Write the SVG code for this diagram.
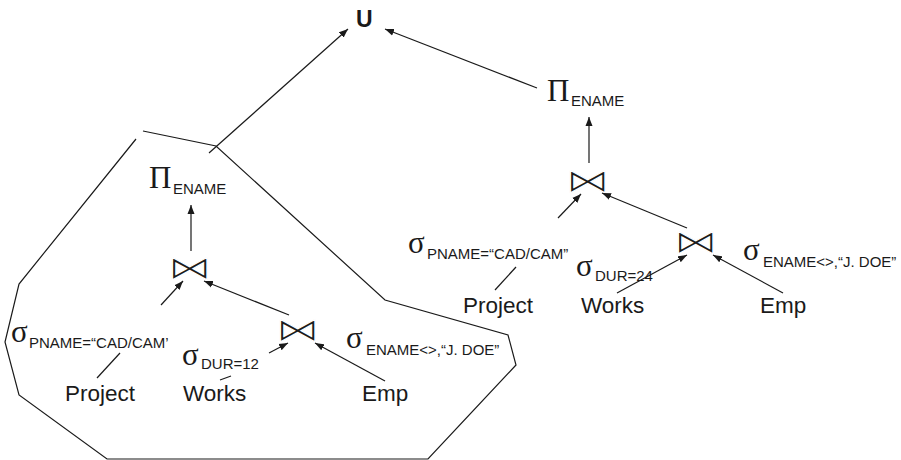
<svg xmlns="http://www.w3.org/2000/svg" width="901" height="460" viewBox="0 0 901 460">
<defs>
<marker id="ah" markerUnits="userSpaceOnUse" markerWidth="10" markerHeight="8" refX="9" refY="4" orient="auto">
<path d="M0,0.5 L9,4 L0,7.5 Z" fill="#1a1a1a"/>
</marker>
<style>
.g{font-family:"Liberation Serif","Times New Roman",serif;font-size:31px;fill:#1a1a1a}
.s{font-family:"Liberation Sans",Arial,sans-serif;font-size:15px;fill:#1a1a1a}
.r{font-family:"Liberation Sans",Arial,sans-serif;font-size:22.5px;fill:#1a1a1a}
.j{font-family:"DejaVu Sans",sans-serif;font-size:33px;fill:#1a1a1a;stroke:#fff;stroke-width:1.1px;text-anchor:middle}
.u{font-family:"Liberation Sans",Arial,sans-serif;font-size:23px;font-weight:bold;fill:#1a1a1a}
.ln{stroke:#1a1a1a;stroke-width:1.2;fill:none}
.ar{stroke:#1a1a1a;stroke-width:1.2;fill:none;marker-end:url(#ah)}
</style>
</defs>
<rect width="901" height="460" fill="#fff"/>
<path id="boundary" class="ln" d="M143,131 L216,146 L385,300 L508,335 L516,365 L428,459 L107,459 L19,395 L5,342 L19,284 L136,139"/>
<g id="union"><text class="u" x="356" y="27">U</text></g>
<g id="L-proj"><text><tspan class="g" x="149" y="188">Π</tspan><tspan class="s" x="173" y="194">ENAME</tspan></text></g>
<g id="L-join1" transform="translate(190,266.5) scale(1.35,1)"><text class="j" x="0" y="12.7">⋈</text></g>
<g id="L-join2" transform="translate(298,328) scale(1.35,1)"><text class="j" x="0" y="12.7">⋈</text></g>
<g id="L-selP"><text><tspan class="g" x="11" y="342">σ</tspan><tspan class="s" x="29" y="348">PNAME=“CAD/CAM’</tspan></text></g>
<g id="L-selD"><text><tspan class="g" x="182" y="365">σ</tspan><tspan class="s" x="201" y="369">DUR=12</tspan></text></g>
<g id="L-selE"><text><tspan class="g" x="346" y="348">σ</tspan><tspan class="s" x="366" y="355">ENAME&lt;&gt;,“J. DOE”</tspan></text></g>
<g id="L-project"><text class="r" x="65" y="401">Project</text></g>
<g id="L-works"><text class="r" x="183" y="401">Works</text></g>
<g id="L-emp"><text class="r" x="362" y="401">Emp</text></g>
<g id="R-proj"><text><tspan class="g" x="547" y="101">Π</tspan><tspan class="s" x="571" y="106">ENAME</tspan></text></g>
<g id="R-join1" transform="translate(588,179) scale(1.35,1)"><text class="j" x="0" y="12.7">⋈</text></g>
<g id="R-join2" transform="translate(696,240) scale(1.35,1)"><text class="j" x="0" y="12.7">⋈</text></g>
<g id="R-selP"><text><tspan class="g" x="408" y="253">σ</tspan><tspan class="s" x="427" y="259">PNAME=“CAD/CAM”</tspan></text></g>
<g id="R-selD"><text><tspan class="g" x="576" y="276">σ</tspan><tspan class="s" x="595" y="281">DUR=24</tspan></text></g>
<g id="R-selE"><text><tspan class="g" x="743" y="260">σ</tspan><tspan class="s" x="763" y="267">ENAME&lt;&gt;,“J. DOE”</tspan></text></g>
<g id="R-project"><text class="r" x="463" y="313">Project</text></g>
<g id="R-works"><text class="r" x="581" y="313">Works</text></g>
<g id="R-emp"><text class="r" x="760" y="313">Emp</text></g>
<g id="connectors">
<line class="ar" x1="209" y1="153" x2="348" y2="29"/>
<line class="ar" x1="191" y1="251" x2="191" y2="205"/>
<line class="ar" x1="161" y1="305" x2="183" y2="281"/>
<line class="ar" x1="289" y1="315" x2="204" y2="281"/>
<line class="ar" x1="269" y1="353" x2="288" y2="343"/>
<line class="ar" x1="385" y1="381" x2="315" y2="343"/>
<line class="ln" x1="120" y1="353" x2="97" y2="378"/>
<line class="ln" x1="220" y1="380" x2="231" y2="376"/>
<line class="ar" x1="537" y1="88" x2="385" y2="29"/>
<line class="ar" x1="589" y1="163" x2="589" y2="117"/>
<line class="ar" x1="558" y1="218" x2="581" y2="194"/>
<line class="ar" x1="687" y1="228" x2="602" y2="193"/>
<line class="ar" x1="617" y1="293" x2="687" y2="255"/>
<line class="ar" x1="783" y1="293" x2="713" y2="255"/>
<line class="ln" x1="516" y1="267" x2="495" y2="290"/>
</g>
</svg>
